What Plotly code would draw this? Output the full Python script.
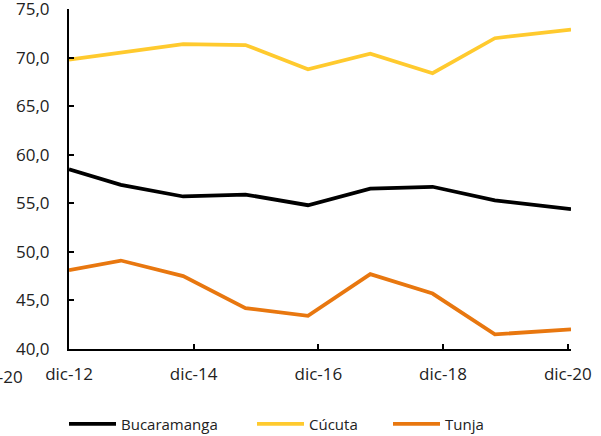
import plotly.graph_objects as go

dates = ["2012-12-01", "2013-10-01", "2014-10-01", "2015-10-01", "2016-10-01",
         "2017-10-01", "2018-10-01", "2019-10-01", "2020-12-20"]
bucaramanga = [58.5, 56.9, 55.7, 55.9, 54.8, 56.5, 56.7, 55.3, 54.4]
cucuta = [69.8, 70.5, 71.4, 71.3, 68.8, 70.4, 68.4, 72.0, 72.9]
tunja = [48.1, 49.1, 47.5, 44.2, 43.4, 47.7, 45.7, 41.5, 42.0]

tick_vals = ["2012-12-01", "2014-12-01", "2016-12-01", "2018-12-01", "2020-12-01"]
tick_text = ["dic-12", "dic-14", "dic-16", "dic-18", "dic-20"]

FONT = "Open Sans"
TXT = "#222222"
fig = go.Figure()
for name, ys, col, lw in [("Bucaramanga", bucaramanga, "#000000", 126),
                          ("Cúcuta", cucuta, "#FFCA2E", 74),
                          ("Tunja", tunja, "#E8770F", 40)]:
    fig.add_trace(go.Scatter(x=dates, y=ys, name=name, mode="lines",
                             legendwidth=lw,
                             line=dict(color=col, width=3.75)))

fig.update_layout(
    width=601, height=436,
    margin=dict(l=69, r=30, t=9, b=87),
    plot_bgcolor="white", paper_bgcolor="white",
    separators=",.",
    font=dict(family=FONT, size=17, color=TXT),
    showlegend=True,
    legend=dict(orientation="h", xref="container", x=64 / 601, xanchor="left",
                yref="container", y=1 - 424 / 436, yanchor="middle",
                font=dict(size=15, color=TXT), itemwidth=47),
    xaxis=dict(type="date", range=["2012-12-01", "2020-12-20"],
               tickvals=tick_vals, ticktext=tick_text, automargin=False,
               showline=True, linecolor="black", linewidth=2,
               ticks="inside", ticklen=5, tickcolor="black", tickwidth=1.5,
               showgrid=False, zeroline=False, ticklabelstandoff=9,
               ticklabeloverflow="allow"),
    yaxis=dict(range=[39.99, 75.01], tickvals=[40, 45, 50, 55, 60, 65, 70, 75],
               tickformat=".1f", automargin=False,
               showline=True, linecolor="black", linewidth=2,
               ticks="inside", ticklen=5, tickcolor="black", tickwidth=1.5,
               showgrid=False, zeroline=False, ticklabelstandoff=14,
               ticklabeloverflow="allow"),
)
fig.add_annotation(text="dic-20", xref="paper", yref="paper",
                   x=(25 - 69) / 502, xanchor="right",
                   y=(349 - 376) / 340, yanchor="middle",
                   showarrow=False, font=dict(size=17, color=TXT))
fig.write_html("out.html", config={"displayModeBar": False},
               post_script="document.body.style.margin='0';")
